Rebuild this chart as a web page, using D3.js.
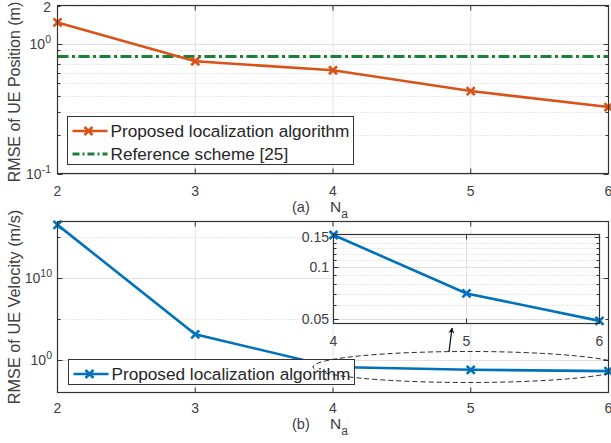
<!DOCTYPE html>
<html>
<head>
<meta charset="utf-8">
<script src="https://cdn.jsdelivr.net/npm/d3@7"></script>
<style>
  html, body { margin: 0; padding: 0; background: #fff; }
  svg { display: block; font-family: "Liberation Sans", Arial, sans-serif; }
</style>
</head>
<body>
<div id="chart"></div>
<script>
// data
var antennas = [2, 3, 4, 5, 6];
var posProposed = [1.48, 0.74, 0.63, 0.435, 0.327];
var posReference = [0.807, 0.807, 0.807, 0.807, 0.807];
var velProposed = [3.3e16, 1500, 0.155, 0.0705, 0.0487];
var insetAntennas = [4, 5, 6];
var insetVel = [0.155, 0.0705, 0.0487];

// ticks
var posMajor = [0.1, 1];
var posMinor = [0.2, 0.3, 0.4, 0.5, 0.6, 0.7, 0.8, 0.9, 2];
var posLabels = [{v: 0.1, base: "10", exp: "-1"}, {v: 1, base: "10", exp: "0"}, {v: 2, base: "2", exp: ""}];
var velMajor = [1, 1e10];
var velMinor = [1e5, 1e15];
var velLabels = [{v: 1, base: "10", exp: "0"}, {v: 1e10, base: "10", exp: "10"}];
var insetMajor = [0.05, 0.1, 0.15];
var insetMinor = [0.06, 0.07, 0.08, 0.09, 0.11, 0.12, 0.13, 0.14];
var insetLabels = ["0.05", "0.1", "0.15"];

var svgWidth = 611;
var svgHeight = 443;

var axisColor = "#333333";
var textColor = "#404040";
var gridColor = "#e2e2e2";
var orange = "#D95319";
var green = "#1a7f37";
var blue = "#0072BD";

var svg = d3.select("#chart").append("svg")
  .attr("width", svgWidth)
  .attr("height", svgHeight);

// scales
var xTop = d3.scaleLinear().domain([2, 6]).range([57.5, 608.5]);
var yTop = d3.scaleLog().domain([0.1, 2]).range([173.5, 5.5]);
var xBot = d3.scaleLinear().domain([2, 6]).range([57.5, 608.5]);
var yBot = d3.scaleLog().domain([Math.pow(10, -3.92), Math.pow(10, 16.93)]).range([392.5, 221.5]);
var xIn = d3.scaleLinear().domain([4, 6]).range([333.5, 599.5]);
var yIn = d3.scaleLog().domain([0.047, 0.156]).range([323.5, 234.5]);

// grid + inward ticks + box
function drawFrame(g, x, y, xTicks, yMajor, yMinor) {
  var x0 = x.range()[0], x1 = x.range()[1];
  var yb = y.range()[0], yt = y.range()[1];

  g.append("rect")
    .attr("x", x0).attr("y", yt)
    .attr("width", x1 - x0).attr("height", yb - yt)
    .attr("fill", "#fff");

  g.selectAll(".vgrid").data(xTicks.slice(1, -1)).enter().append("line")
    .attr("x1", d => x(d)).attr("x2", d => x(d))
    .attr("y1", yt).attr("y2", yb)
    .attr("stroke", gridColor).attr("stroke-width", 1);

  g.selectAll(".mgrid").data(yMinor).enter().append("line")
    .attr("x1", x0).attr("x2", x1)
    .attr("y1", d => Math.round(y(d)) + 0.5).attr("y2", d => Math.round(y(d)) + 0.5)
    .attr("stroke", "#d4d4d4").attr("stroke-width", 1)
    .attr("stroke-dasharray", "1,2");

  g.selectAll(".hgrid").data(yMajor).enter().append("line")
    .attr("x1", x0).attr("x2", x1)
    .attr("y1", d => Math.round(y(d)) + 0.5).attr("y2", d => Math.round(y(d)) + 0.5)
    .attr("stroke", gridColor).attr("stroke-width", 1);

  // x ticks at top and bottom
  xTicks.forEach(function(t) {
    g.append("line").attr("x1", x(t)).attr("x2", x(t)).attr("y1", yb).attr("y2", yb - 5)
      .attr("stroke", axisColor);
    g.append("line").attr("x1", x(t)).attr("x2", x(t)).attr("y1", yt).attr("y2", yt + 5)
      .attr("stroke", axisColor);
  });
  // y ticks left and right
  yMajor.concat(yMinor).forEach(function(t) {
    var len = yMajor.indexOf(t) >= 0 ? 5 : 3;
    var yy = Math.round(y(t)) + 0.5;
    g.append("line").attr("x1", x0).attr("x2", x0 + len).attr("y1", yy).attr("y2", yy)
      .attr("stroke", axisColor);
    g.append("line").attr("x1", x1).attr("x2", x1 - len).attr("y1", yy).attr("y2", yy)
      .attr("stroke", axisColor);
  });
}

function drawBox(g, x, y) {
  var x0 = x.range()[0], x1 = x.range()[1];
  var yb = y.range()[0], yt = y.range()[1];
  g.append("rect")
    .attr("x", x0).attr("y", yt)
    .attr("width", x1 - x0).attr("height", yb - yt)
    .attr("fill", "none")
    .attr("stroke", axisColor).attr("stroke-width", 1.2);
}

function drawSeries(g, x, y, xs, ys, color, dash, markers) {
  var pts = xs.map((d, i) => [d, ys[i]]);
  var line = d3.line().x(d => x(d[0])).y(d => y(d[1]));
  g.append("path").datum(pts)
    .attr("d", line)
    .attr("fill", "none")
    .attr("stroke", color)
    .attr("stroke-width", dash ? 3 : 2.6)
    .attr("stroke-dasharray", dash || null);
  if (markers) {
    g.selectAll(null).data(pts).enter().append("path")
      .attr("transform", d => "translate(" + x(d[0]) + "," + y(d[1]) + ")")
      .attr("d", "M-4,-4L4,4M-4,4L4,-4")
      .attr("stroke", color).attr("stroke-width", 2.6).attr("fill", "none");
  }
}

function xTickLabels(g, x, ticks, baseline) {
  g.selectAll(null).data(ticks).enter().append("text")
    .attr("x", d => x(d)).attr("y", baseline)
    .attr("text-anchor", "middle")
    .attr("font-size", 14).attr("fill", textColor)
    .text(d => d);
}

function yPowerLabels(g, y, labels, right) {
  labels.forEach(function(l) {
    var t = g.append("text")
      .attr("x", right).attr("y", Math.max(y(l.v) + 5, 12))
      .attr("text-anchor", "end")
      .attr("font-size", 14).attr("fill", textColor);
    t.append("tspan").text(l.base);
    if (l.exp) {
      t.append("tspan").attr("dy", -6).attr("font-size", 10.5).text(l.exp);
    }
  });
}

function legend(g, x, y, w, h, items) {
  g.append("rect").attr("x", x).attr("y", y).attr("width", w).attr("height", h)
    .attr("fill", "#fff").attr("stroke", axisColor).attr("stroke-width", 1);
  items.forEach(function(it, i) {
    var cy = y + 14.5 + i * 23;
    g.append("line").attr("x1", x + 5).attr("x2", x + 40).attr("y1", cy).attr("y2", cy)
      .attr("stroke", it.color).attr("stroke-width", it.dash ? 3 : 2.6)
      .attr("stroke-dasharray", it.dash || null);
    if (it.marker) {
      g.append("path").attr("transform", "translate(" + (x + 21) + "," + cy + ")")
        .attr("d", "M-4,-4L4,4M-4,4L4,-4")
        .attr("stroke", it.color).attr("stroke-width", 2.6);
    }
    g.append("text").attr("x", x + 43).attr("y", cy + 6)
      .attr("font-size", 17.2).attr("fill", "#262626")
      .text(it.label);
  });
}

function axisTitle(g, cx, baseline, tag) {
  g.append("text").attr("x", cx - 38).attr("y", baseline)
    .attr("font-size", 14.5).attr("fill", textColor).text(tag);
  var t = g.append("text").attr("x", cx).attr("y", baseline)
    .attr("font-size", 15.5).attr("fill", textColor);
  t.append("tspan").text("N");
  t.append("tspan").attr("dy", 6).attr("font-size", 12).text("a");
}

function yTitle(g, cx, cy, label, size) {
  g.append("text")
    .attr("transform", "translate(" + cx + "," + cy + ") rotate(-90)")
    .attr("text-anchor", "middle")
    .attr("font-size", size).attr("fill", textColor)
    .text(label);
}

// ---------- panel (a) ----------
var panelA = svg.append("g");
drawFrame(panelA, xTop, yTop, antennas, posMajor, posMinor);
drawSeries(panelA, xTop, yTop, antennas, posReference, green, "11,3.5,3,3.5", false);
drawSeries(panelA, xTop, yTop, antennas, posProposed, orange, null, true);
drawBox(panelA, xTop, yTop);
xTickLabels(panelA, xTop, antennas, 196);
yPowerLabels(panelA, yTop, posLabels, 51);
yTitle(panelA, 20, 92, "RMSE of UE Position (m)", 16);
axisTitle(panelA, 330, 212, "(a)");
legend(panelA, 67.5, 116.5, 286, 48, [
  {label: "Proposed localization algorithm", color: orange, marker: true},
  {label: "Reference scheme [25]", color: green, dash: "7,3,2,3"}
]);

// ---------- panel (b) ----------
var panelB = svg.append("g");
drawFrame(panelB, xBot, yBot, antennas, velMajor, velMinor);
drawSeries(panelB, xBot, yBot, antennas, velProposed, blue, null, true);
drawBox(panelB, xBot, yBot);
xTickLabels(panelB, xBot, antennas, 413);
yPowerLabels(panelB, yBot, velLabels, 52);
yTitle(panelB, 20, 307, "RMSE of UE Velocity (m/s)", 16.3);
axisTitle(panelB, 330, 429, "(b)");
legend(panelB, 68.5, 359.5, 286, 25, [
  {label: "Proposed localization algorithm", color: blue, marker: true}
]);

// ---------- inset ----------
var inset = svg.append("g");
drawFrame(inset, xIn, yIn, insetAntennas, insetMajor, insetMinor);
drawSeries(inset, xIn, yIn, insetAntennas, insetVel, blue, null, true);
drawBox(inset, xIn, yIn);
xTickLabels(inset, xIn, insetAntennas, 346);
inset.selectAll(null).data(insetMajor).enter().append("text")
  .attr("x", 329).attr("y", d => yIn(d) + 5)
  .attr("text-anchor", "end")
  .attr("font-size", 14).attr("fill", textColor)
  .text((d, i) => insetLabels[i]);

// zoom ellipse + arrow
svg.append("ellipse")
  .attr("cx", 468).attr("cy", 367).attr("rx", 155).attr("ry", 15.5)
  .attr("fill", "none").attr("stroke", "#262626").attr("stroke-width", 1)
  .attr("stroke-dasharray", "5,3");

svg.append("defs").append("marker")
  .attr("id", "head").attr("viewBox", "0 0 10 10")
  .attr("refX", 9).attr("refY", 5)
  .attr("markerWidth", 6).attr("markerHeight", 6)
  .attr("markerUnits", "userSpaceOnUse")
  .attr("orient", "auto")
  .append("path").attr("d", "M0,0L10,5L0,10L3,5Z").attr("fill", "#111");
svg.append("line")
  .attr("x1", 449).attr("y1", 352).attr("x2", 452).attr("y2", 328)
  .attr("stroke", "#111").attr("stroke-width", 1.3)
  .attr("marker-end", "url(#head)");
</script>
</body>
</html>
